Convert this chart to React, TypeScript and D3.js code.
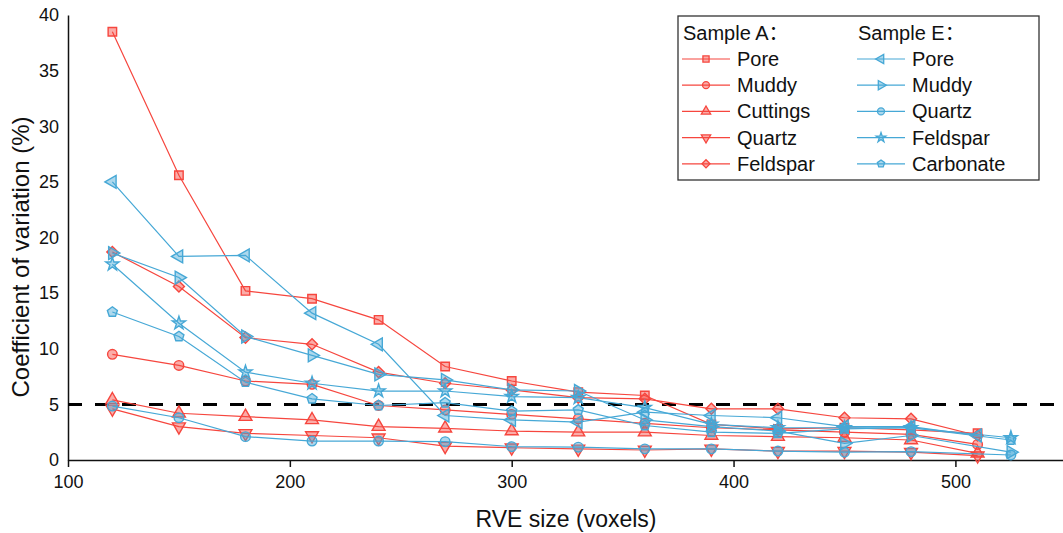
import React, { useRef, useEffect } from 'react';
import * as d3 from 'd3';

// RVE sizes (voxels)
const sizesA = [120, 150, 180, 210, 240, 270, 300, 330, 360, 390, 420, 450, 480, 510];
const sizesE = [120, 150, 180, 210, 240, 270, 300, 330, 360, 390, 420, 450, 480, 525];
const sizesEPore = [120, 150, 180, 210, 240, 270, 300, 330, 360, 390, 420, 450, 480, 510];

// Sample A, coefficient of variation (%)
const aPore = [38.5, 25.6, 15.2, 14.5, 12.6, 8.4, 7.1, 6.1, 5.8, 3.2, 2.8, 2.9, 2.7, 2.4];
const aMuddy = [9.5, 8.5, 7.1, 6.8, 4.9, 4.5, 4.1, 3.7, 3.3, 2.9, 2.7, 2.5, 2.3, 1.4];
const aCuttings = [5.4, 4.2, 3.9, 3.6, 3.0, 2.85, 2.6, 2.5, 2.5, 2.2, 2.1, 2.0, 1.8, 0.6];
const aQuartz = [4.6, 3.0, 2.4, 2.2, 2.0, 1.25, 1.1, 1.0, 0.9, 1.0, 0.8, 0.8, 0.7, 0.4];
const aFeldspar = [18.7, 15.6, 11.0, 10.4, 7.9, 6.9, 6.3, 5.6, 5.5, 4.6, 4.6, 3.8, 3.7, 2.2];

// Sample E, coefficient of variation (%)
const ePore = [25.0, 18.3, 18.4, 13.2, 10.4, 4.0, 3.6, 3.4, 4.3, 4.0, 3.8, 3.0, 3.0, 2.2];
const eMuddy = [18.6, 16.4, 11.1, 9.4, 7.7, 7.2, 6.3, 6.2, 3.6, 3.0, 2.6, 1.5, 2.2, 0.7];
const eQuartz = [4.85, 3.8, 2.1, 1.7, 1.7, 1.65, 1.2, 1.15, 1.0, 1.0, 0.8, 0.7, 0.75, 0.45];
const eFeldspar = [17.6, 12.3, 7.9, 6.9, 6.2, 6.2, 5.7, 5.6, 4.7, 3.2, 2.9, 2.9, 2.9, 2.0];
const eCarbonate = [13.3, 11.1, 7.0, 5.5, 4.9, 5.15, 4.4, 4.5, 3.1, 2.5, 2.4, 2.8, 2.9, 1.8];

const xTicks = [100, 200, 300, 400, 500];
const yTicks = [0, 5, 10, 15, 20, 25, 30, 35, 40];
const threshold = 5;

const RED = '#f6463e';
const BLUE = '#46a8d6';
const FONT = '"Liberation Sans", Arial, sans-serif';

type Shape = 'square' | 'circle' | 'triUp' | 'triDown' | 'diamond' | 'triLeft' | 'triRight' | 'star' | 'pentagon';

const seriesA = [
  { label: 'Pore', x: sizesA, y: aPore, shape: 'square' as Shape },
  { label: 'Muddy', x: sizesA, y: aMuddy, shape: 'circle' as Shape },
  { label: 'Cuttings', x: sizesA, y: aCuttings, shape: 'triUp' as Shape },
  { label: 'Quartz', x: sizesA, y: aQuartz, shape: 'triDown' as Shape },
  { label: 'Feldspar', x: sizesA, y: aFeldspar, shape: 'diamond' as Shape },
];
const seriesE = [
  { label: 'Pore', x: sizesEPore, y: ePore, shape: 'triLeft' as Shape },
  { label: 'Muddy', x: sizesE, y: eMuddy, shape: 'triRight' as Shape },
  { label: 'Quartz', x: sizesE, y: eQuartz, shape: 'circle' as Shape },
  { label: 'Feldspar', x: sizesE, y: eFeldspar, shape: 'star' as Shape },
  { label: 'Carbonate', x: sizesE, y: eCarbonate, shape: 'pentagon' as Shape },
];

const markerPath = (shape: Shape, size: number) => {
  if (shape === 'pentagon') {
    const r = Math.sqrt(size) * 0.62;
    const pts = d3.range(5).map(k => {
      const a = (-90 + k * 72) * Math.PI / 180;
      return [r * Math.cos(a), r * Math.sin(a)];
    });
    return 'M' + pts.map(p => p.join(',')).join('L') + 'Z';
  }
  const type = {
    square: d3.symbolSquare,
    circle: d3.symbolCircle,
    triUp: d3.symbolTriangle,
    triDown: d3.symbolTriangle,
    triLeft: d3.symbolTriangle,
    triRight: d3.symbolTriangle,
    diamond: d3.symbolSquare,
    star: d3.symbolStar,
  }[shape];
  return d3.symbol().type(type).size(size)() as string;
};

const rotation = (shape: Shape) =>
  shape === 'triDown' ? 180 : shape === 'triLeft' ? -90 : shape === 'triRight' ? 90 : shape === 'diamond' ? 45 : 0;

const markerSize = (shape: Shape, base: number) =>
  shape === 'star' ? base * 0.75 : shape === 'diamond' ? base * 0.85 : base;

const App = () => {
  const svgRef = useRef<SVGSVGElement>(null);
  const width = 1063;
  const height = 533;

  useEffect(() => {
    const svg = d3.select(svgRef.current);
    svg.selectAll('*').remove();

    const x = d3.scaleLinear().domain([100, 548.5]).range([68, 1063]);
    const y = d3.scaleLinear().domain([0, 40]).range([460, 15]);

    // axes
    const xAxis = svg.append('g')
      .attr('transform', 'translate(0,460)')
      .call(d3.axisBottom(x).tickValues(xTicks).tickSize(7).tickPadding(8).tickSizeOuter(0));
    xAxis.selectAll('text').attr('font-size', 18).attr('font-family', FONT).attr('fill', '#111');
    xAxis.selectAll('line, path').attr('stroke', '#111').attr('stroke-width', 1.5);

    const yAxis = svg.append('g')
      .attr('transform', 'translate(68,0)')
      .call(d3.axisLeft(y).tickValues(yTicks).tickSize(0).tickPadding(9).tickSizeOuter(0));
    yAxis.selectAll('text').attr('font-size', 18).attr('font-family', FONT).attr('fill', '#111');
    yAxis.selectAll('line, path').attr('stroke', '#111').attr('stroke-width', 1.5);

    // axis titles
    svg.append('text')
      .attr('x', 566).attr('y', 527)
      .attr('text-anchor', 'middle')
      .attr('font-size', 23).attr('font-family', FONT).attr('fill', '#111')
      .text('RVE size (voxels)');
    svg.append('text')
      .attr('transform', 'translate(29,257) rotate(-90)')
      .attr('text-anchor', 'middle')
      .attr('font-size', 24).attr('font-family', FONT).attr('fill', '#111')
      .text('Coefficient of variation (%)');

    // 5% threshold
    svg.append('line')
      .attr('x1', x(100)).attr('x2', 1063)
      .attr('y1', y(threshold)).attr('y2', y(threshold))
      .attr('stroke', '#000').attr('stroke-width', 3)
      .attr('stroke-dasharray', '14,13');

    const line = d3.line<[number, number]>().x(d => x(d[0])).y(d => y(d[1]));

    const drawGroup = (group: typeof seriesA, color: string) => {
      group.forEach(s => {
        const pts = s.x.map((v, i) => [v, s.y[i]] as [number, number]);
        svg.append('path')
          .datum(pts)
          .attr('fill', 'none')
          .attr('stroke', color)
          .attr('stroke-width', 1.2)
          .attr('d', line);
        svg.append('g').selectAll('path')
          .data(pts)
          .join('path')
          .attr('d', markerPath(s.shape, markerSize(s.shape, 72)))
          .attr('transform', d => `translate(${x(d[0])},${y(d[1])}) rotate(${rotation(s.shape)})`)
          .attr('fill', color)
          .attr('fill-opacity', 0.45)
          .attr('stroke', color)
          .attr('stroke-width', 1.4);
      });
    };
    drawGroup(seriesA, RED);
    drawGroup(seriesE, BLUE);

    // legend
    const lg = svg.append('g');
    lg.append('rect')
      .attr('x', 678).attr('y', 16).attr('width', 361).attr('height', 164)
      .attr('fill', '#fff').attr('stroke', '#333').attr('stroke-width', 1.3);

    const legendCol = (group: typeof seriesA, color: string, x0: number, title: string) => {
      const t = lg.append('text')
        .attr('x', x0 + 1).attr('y', 40)
        .attr('font-size', 20).attr('font-family', FONT).attr('fill', '#111');
      t.append('tspan').text(title);
      t.append('tspan').attr('font-family', '"Noto Sans CJK SC", sans-serif').text('：');
      group.forEach((s, i) => {
        const cy = 59 + i * 26.2;
        lg.append('line')
          .attr('x1', x0).attr('x2', x0 + 48)
          .attr('y1', cy).attr('y2', cy)
          .attr('stroke', color).attr('stroke-width', 1.2);
        lg.append('path')
          .attr('d', markerPath(s.shape, markerSize(s.shape, 38)))
          .attr('transform', `translate(${x0 + 24},${cy}) rotate(${rotation(s.shape)})`)
          .attr('fill', color).attr('fill-opacity', 0.45)
          .attr('stroke', color).attr('stroke-width', 1.3);
        lg.append('text')
          .attr('x', x0 + 55).attr('y', cy + 7)
          .attr('font-size', 20).attr('font-family', FONT).attr('fill', '#111')
          .text(s.label);
      });
    };
    legendCol(seriesA, RED, 682, 'Sample A');
    legendCol(seriesE, BLUE, 857, 'Sample E');
  }, []);

  return (
    <svg
      ref={svgRef}
      width={width}
      height={height}
      style={{ position: 'absolute', left: 0, top: 0, background: '#fff' }}
    />
  );
};

export default App;
